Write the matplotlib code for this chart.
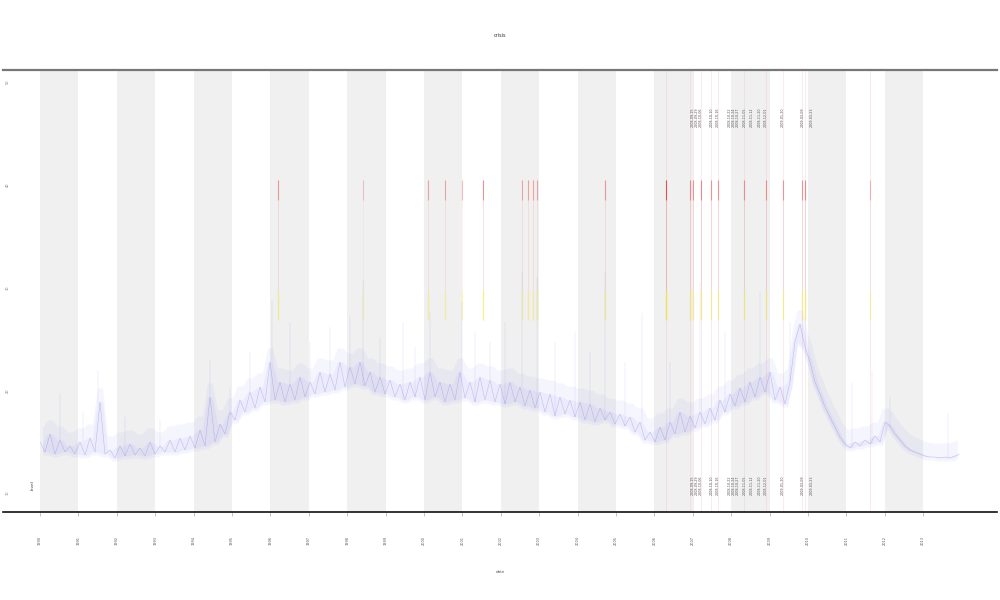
import numpy as np
import matplotlib
matplotlib.use('Agg')
import matplotlib.pyplot as plt

# daily level, one value per sample (zig-zag of low / high envelope)
level = [70, 60, 78, 58, 72, 60, 66, 58, 70, 57, 74, 60, 110, 58, 62, 54, 66, 56, 68, 57,
         64, 56, 70, 58, 66, 60, 72, 60, 74, 62, 76, 64, 82, 66, 115, 70, 88, 78, 100, 92,
         112, 100, 120, 104, 125, 110, 150, 112, 130, 110, 128, 112, 135, 115, 130, 118, 140, 120, 138, 122,
         150, 125, 145, 128, 150, 126, 140, 120, 135, 118, 132, 115, 128, 112, 130, 115, 135, 112, 140, 115,
         130, 110, 128, 112, 140, 114, 130, 110, 135, 112, 132, 110, 128, 108, 130, 110, 125, 106, 122, 104,
         120, 100, 118, 96, 115, 98, 112, 95, 110, 92, 108, 90, 104, 92, 100, 88, 98, 86, 95, 80,
         90, 72, 80, 70, 85, 72, 90, 78, 100, 80, 96, 84, 100, 88, 104, 92, 112, 100, 118, 106,
         124, 110, 130, 115, 135, 120, 140, 112, 125, 108, 130, 170, 188, 165, 150, 130, 118, 105, 95, 85,
         75, 68, 64, 70, 66, 72, 68, 76, 70, 90, 86, 78, 72, 66, 62, 60, 58, 56, 55, 55,
         54, 55, 54, 56, 58]

# isolated tall spikes: sample index and peak value
spike_idx = [4, 8.5, 11.6, 17, 24, 34, 38, 42, 46.4, 50, 54, 58, 62, 64.6, 68, 72.6, 75, 78,
             84.4, 87, 90, 93, 96.4, 99.4, 103, 107, 110, 113, 117, 120.4, 126, 132, 137, 144,
             150, 162.4, 166.4, 170, 181.6]
spike_top = [119, 100, 142, 95, 92, 152, 125, 160, 212, 190, 170, 185, 195, 232, 175, 190, 165, 200,
             210, 180, 170, 190, 240, 235, 170, 180, 160, 240, 150, 199, 150, 230, 180, 220,
             190, 129, 142, 115, 99]

# flagged events (sample index, strength)
event_idx = [47.6, 64.6, 77.6, 81, 84.4, 88.6, 96.4, 97.6, 98.6, 99.4, 113, 125.2,
             130, 130.6, 132.2, 134.2, 135.6, 140.8, 145.2, 148.6, 152.4, 153, 166]
event_str = [0.5, 0.2, 0.4, 0.4, 0.3, 0.6, 0.4, 0.4, 0.4, 0.4, 0.5, 1.0,
             0.5, 0.5, 0.6, 0.5, 0.5, 0.5, 0.5, 0.5, 0.5, 0.6, 0.3]

# annotation columns in the busy stretch
note_idx = [130.6, 131.4, 132.2, 134.4, 135.6, 138, 138.8, 139.6, 141, 142.4, 144, 145.2,
            148.6, 152.6, 154.4]
note_txt = ['2008-09-15', '2008-09-29', '2008-10-06', '2008-10-10', '2008-10-16',
            '2008-10-22', '2008-10-24', '2008-10-27', '2008-11-05', '2008-11-12',
            '2008-11-20', '2008-12-01', '2009-01-20', '2009-03-09', '2009-03-23']

year_labels = [str(y) for y in range(1990, 2014)]
ytick_vals = [20, 122, 225, 328, 431]
ytick_labels = ['10', '20', '30', '40', '50']

period = 7.68   # samples per year band
x = np.arange(len(level))
lv = np.array(level)
lo = np.minimum(lv[:-1], lv[1:])
hi = np.maximum(lv[:-1], lv[1:])

fig = plt.figure(figsize=(10, 6), dpi=100)
ax = fig.add_axes([0.003, 0.1467, 0.994, 0.7367])

for k in range(12):
    ax.axvspan(2 * k * period, (2 * k + 1) * period, color='#f0f0f0', lw=0, zorder=0)

ax.fill_between(x[:-1] + 0.5, lo - 3, hi + 14, color='#8080f0', alpha=0.08, lw=0, zorder=2)
ax.fill_between(x[:-1] + 0.5, lo, hi, color='#8080f0', alpha=0.08, lw=0, zorder=2)
ax.plot(x, level, color='#6a6ae6', lw=0.35, alpha=0.4, zorder=3)
ax.vlines(spike_idx, [level[int(round(i))] for i in spike_idx], spike_top,
          color='#7070e6', lw=0.35, alpha=0.22, zorder=3)

for xi, s in zip(event_idx, event_str):
    if xi > 125:
        ax.axvline(xi, color='#e8a0b0', lw=0.5, alpha=0.3, zorder=1)
    ax.vlines(xi, 312, 332, color='#e01010', lw=0.8, alpha=0.6 * s + 0.1, zorder=4)
    ax.vlines(xi, 222, 312, color='#e04040', lw=0.6, alpha=0.3 * s, zorder=4)
    ax.vlines(xi, 192, 222, color='#f0e020', lw=1.0, alpha=0.6 * s + 0.1, zorder=4)

for xi, t in zip(note_idx, note_txt):
    ax.text(xi, 395, t, rotation=90, fontsize=2.4, color='#555555', ha='center', va='center', zorder=5)
    ax.text(xi, 27, t, rotation=90, fontsize=2.4, color='#555555', ha='center', va='center', zorder=5)

ax.text(-1.4, 27, 'level', rotation=90, fontsize=3, color='#333333', ha='center', va='center')

ax.set_xlim(-7.4, 191.4)
ax.set_ylim(0, 442)
ax.set_xticks(np.arange(24) * period)
ax.set_xticklabels(year_labels)
ax.set_yticks(ytick_vals)
ax.set_yticklabels(ytick_labels)
ax.tick_params(axis='x', length=3, width=0.4, color='#999999', pad=14, labelsize=2.5,
               labelrotation=90, labelcolor='#555555')
ax.tick_params(axis='y', length=0, pad=-5, labelsize=2.5, labelrotation=90, labelcolor='#777777')

for side in ['left', 'right']:
    ax.spines[side].set_visible(False)
ax.spines['top'].set_color('#777777')
ax.spines['top'].set_linewidth(1.6)
ax.spines['bottom'].set_color('#111111')
ax.spines['bottom'].set_linewidth(1.2)

ax.set_xlabel('date', fontsize=3, color='#555555', labelpad=18)
ax.set_title('crisis', fontsize=3.5, color='#333333', pad=24)

fig.savefig('out.png', dpi=100)
